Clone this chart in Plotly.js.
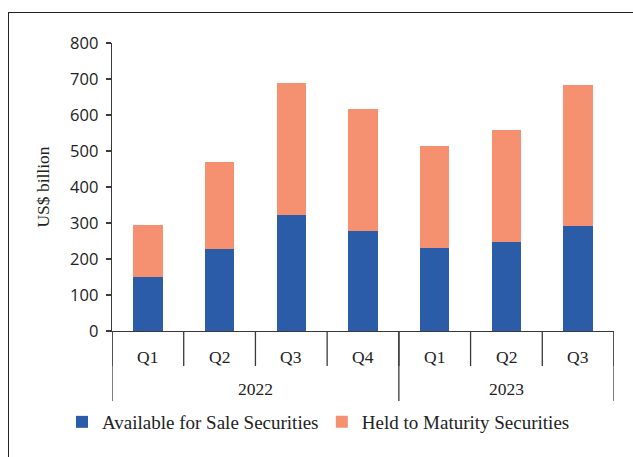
<!DOCTYPE html>
<html><head><meta charset="utf-8">
<script src="https://cdn.plot.ly/plotly-3.0.1.min.js"></script>
<style>
html,body{margin:0;padding:0;background:#fff;}
#frame{position:absolute;left:8px;top:12px;width:640px;height:460px;border:1.3px solid #222;box-sizing:border-box;pointer-events:none;z-index:5;}
#chart{position:absolute;left:0;top:0;width:633px;height:457px;}
</style></head>
<body>
<div id="chart"></div>
<div id="frame"></div>
<script>
const years = ["2022","2022","2022","2022","2023","2023","2023"];
const quarters = ["Q1","Q2","Q3","Q4","Q1","Q2","Q3"];
const afs = [151, 228, 322, 277, 231, 248, 292];
const htm = [143, 242, 368, 341, 284, 310, 392];
const seriesNames = ["Available for Sale Securities", "Held to Maturity Securities"];
const colors = ["#2A5CA8", "#F59170"];
const yTicks = [0,100,200,300,400,500,600,700,800];

const serif = "Liberation Serif, DejaVu Serif, serif";
const sans = "Open Sans, Noto Sans, sans-serif";
const axisColor = "#3a3a3a";
const textColor = "#222";

const idx = quarters.map((_, i) => i);

const traces = [
  {type:"bar", name:seriesNames[0], x:idx, y:afs, marker:{color:colors[0], line:{width:0}}, width:0.41, legend:"legend"},
  {type:"bar", name:seriesNames[1], x:idx, y:htm, marker:{color:colors[1], line:{width:0}}, width:0.41, legend:"legend2"}
];

// category labels
const annotations = [];
quarters.forEach((q, i) => {
  annotations.push({xref:"x", yref:"paper", x:i, y:0, yanchor:"middle", yshift:-26,
    text:q, showarrow:false, font:{family:serif, size:17.5, color:textColor}});
});
// year group labels & dividers
const groups = [];
years.forEach((y, i) => {
  if (!groups.length || groups[groups.length-1].year !== y) groups.push({year:y, start:i, end:i});
  else groups[groups.length-1].end = i;
});
groups.forEach(g => {
  annotations.push({xref:"x", yref:"paper", x:(g.start+g.end)/2, y:0, yanchor:"middle", yshift:-58,
    text:g.year, showarrow:false, font:{family:serif, size:17.5, color:textColor}});
});
const shapes = [];
// boundary ticks between quarters
for (let i = 0; i <= quarters.length; i++) {
  shapes.push({type:"line", xref:"x", yref:"paper", ysizemode:"pixel", yanchor:0,
    x0:i-0.5, x1:i-0.5, y0:0, y1:-35, line:{color:axisColor, width:1.3}, layer:"above"});
}
// year dividers
const divs = [groups[0].start - 0.5].concat(groups.map(g => g.end + 0.5));
divs.forEach(d => {
  shapes.push({type:"line", xref:"x", yref:"paper", ysizemode:"pixel", yanchor:0,
    x0:d, x1:d, y0:0, y1:-70, line:{color:axisColor, width:1.3}, layer:"above"});
});

const layout = {
  width:633, height:457,
  margin:{l:112, r:19, t:43, b:126},
  barmode:"stack",
  paper_bgcolor:"#fff", plot_bgcolor:"#fff",
  showlegend:true,
  legend:{orientation:"h", x:-0.0996, xanchor:"left", y:-0.316, yanchor:"middle",
          font:{family:serif, size:19, color:textColor}, bgcolor:"rgba(0,0,0,0)"},
  legend2:{orientation:"h", x:0.418, xanchor:"left", y:-0.316, yanchor:"middle",
          font:{family:serif, size:19, color:textColor}, bgcolor:"rgba(0,0,0,0)"},
  xaxis:{range:[-0.5, quarters.length-0.5], showline:true, linecolor:axisColor, linewidth:1.3,
         showticklabels:false, ticks:"", showgrid:false, zeroline:false, fixedrange:true, automargin:false},
  yaxis:{range:[0,800], tickvals:yTicks, showline:true, linecolor:axisColor, linewidth:1.3,
         ticks:"outside", ticklen:5, tickcolor:axisColor, tickwidth:1.3, showgrid:false, zeroline:false,
         tickfont:{family:sans, size:16.5, color:textColor}, ticklabelstandoff:4,
         title:{text:"US$ billion", font:{family:serif, size:17.5, color:textColor}, standoff:16}},
  annotations:annotations,
  shapes:shapes
};
Plotly.newPlot("chart", traces, layout, {displayModeBar:false, staticPlot:true});
</script>
</body></html>
